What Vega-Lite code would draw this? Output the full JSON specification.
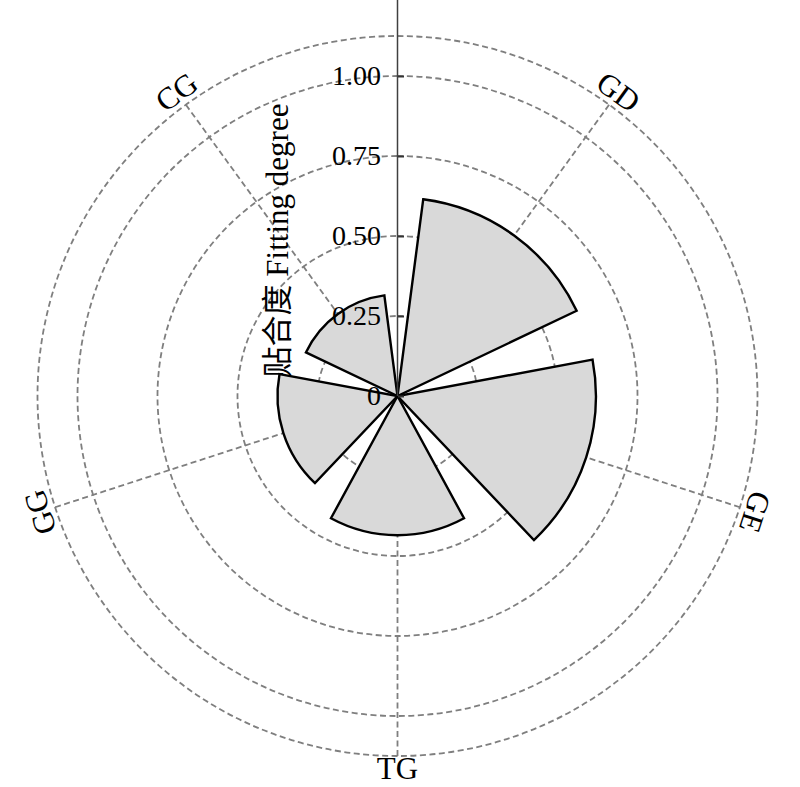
{
  "$schema": "https://vega.github.io/schema/vega-lite/v6.json",
  "width": 795,
  "height": 792,
  "padding": 0,
  "autosize": {"type": "none"},
  "background": "white",
  "config": {"view": {"stroke": null}, "font": "Liberation Serif"},
  "data": {
    "values": [
      {"category": "GD", "value": 0.62},
      {"category": "GE", "value": 0.62},
      {"category": "TG", "value": 0.435},
      {"category": "GG", "value": 0.375},
      {"category": "CG", "value": 0.317}
    ]
  },
  "layer": [
    {
      "data": {"values": [{"level": 0.25}, {"level": 0.5}, {"level": 0.75}, {"level": 1}, {"level": 1.125}]},
      "mark": {"type": "arc", "filled": false, "stroke": "#7f7f7f", "strokeWidth": 1.8, "strokeDash": [6, 3.5]},
      "encoding": {
        "theta": {"value": 0},
        "theta2": {"value": 6.3},
        "radius": {"field": "level", "type": "quantitative", "stack": null, "scale": {"type": "linear", "domain": [0, 1], "range": [0, 320], "nice": false, "zero": true}}
      }
    },
    {
      "transform": [
        {"window": [{"op": "row_number", "as": "idx"}]},
        {"calculate": "(datum.idx - 0.5) * 2 * PI / 5", "as": "a"},
        {"calculate": "1.125 * sin(datum.a)", "as": "gx"},
        {"calculate": "1.125 * cos(datum.a)", "as": "gy"}
      ],
      "mark": {"type": "rule", "stroke": "#7f7f7f", "strokeWidth": 1.8, "strokeDash": [6, 3.5]},
      "encoding": {
        "x": {"field": "gx", "type": "quantitative", "scale": {"domain": [-1, 1], "range": [77.5, 717.5], "nice": false, "zero": false}, "axis": null},
        "y": {"field": "gy", "type": "quantitative", "scale": {"domain": [-1, 1], "range": [716, 76], "nice": false, "zero": false}},
        "x2": {"datum": 0},
        "y2": {"datum": 0}
      }
    },
    {
      "transform": [
        {"window": [{"op": "row_number", "as": "idx"}]},
        {"calculate": "datum.idx - 1", "as": "t0"}
      ],
      "mark": {"type": "arc", "padAngle": 0.26, "fill": "#d9d9d9", "stroke": "black", "strokeWidth": 2.4},
      "encoding": {
        "theta": {"field": "t0", "type": "quantitative", "stack": null, "scale": {"type": "linear", "domain": [0, 5], "range": [0, 6.283185307], "nice": false, "zero": false}},
        "theta2": {"field": "idx"},
        "radius": {"field": "value", "type": "quantitative", "stack": null, "scale": {"type": "linear", "domain": [0, 1], "range": [0, 320], "nice": false, "zero": true}}
      }
    },
    {
      "data": {"values": [{}]},
      "mark": {"type": "rule", "stroke": "#404040", "strokeWidth": 1.5},
      "encoding": {
        "x": {"datum": 0, "type": "quantitative", "scale": {"domain": [-1, 1], "range": [77.5, 717.5], "nice": false, "zero": false}, "axis": null},
        "y": {"datum": 1.25, "type": "quantitative", "scale": {"domain": [-1, 1], "range": [716, 76], "nice": false, "zero": false}},
        "y2": {"datum": 0}
      }
    },
    {
      "transform": [
        {"window": [{"op": "row_number", "as": "idx"}]},
        {"calculate": "(datum.idx - 0.5) * 2 * PI / 5", "as": "a"},
        {"calculate": "datum.idx * 72 - 36", "as": "deg"},
        {"calculate": "1.17 * sin(datum.a)", "as": "lx"},
        {"calculate": "1.17 * cos(datum.a)", "as": "ly"},
        {"calculate": "(datum.deg > 135 && datum.deg < 225) ? datum.deg - 180 : datum.deg", "as": "rot"}
      ],
      "mark": {"type": "text", "font": "Liberation Serif", "fontSize": 31, "align": "center", "baseline": "middle", "color": "black"},
      "encoding": {
        "x": {"field": "lx", "type": "quantitative", "scale": {"domain": [-1, 1], "range": [77.5, 717.5], "nice": false, "zero": false}, "axis": null},
        "y": {"field": "ly", "type": "quantitative", "scale": {"domain": [-1, 1], "range": [716, 76], "nice": false, "zero": false}},
        "text": {"field": "category"},
        "angle": {"field": "rot", "type": "quantitative", "scale": null}
      }
    }
  ],
  "encoding": {
    "y": {
      "type": "quantitative",
      "axis": {
        "orient": "left", "offset": -397.5, "values": [0, 0.25, 0.5, 0.75, 1],
        "domain": false, "grid": false, "ticks": true, "tickSize": -6, "tickWidth": 2, "tickColor": "#333333",
        "labelExpr": "datum.value == 0 ? '0' : format(datum.value, '.2f')",
        "labelFont": "Liberation Serif", "labelFontSize": 28, "labelColor": "black", "labelPadding": 23,
        "labelAlign": "right", "labelBaseline": "middle", "labelOverlap": false, "labelFlush": false,
        "title": "贴合度 Fitting degree", "titleFont": "Liberation Serif, Noto Sans CJK SC", "titleFontSize": 31,
        "titleFontWeight": "normal", "titleColor": "black", "titleAngle": 270, "titleX": -119, "titleY": 240,
        "titleAlign": "center", "titleBaseline": "middle", "zindex": 2
      }
    }
  }
}
